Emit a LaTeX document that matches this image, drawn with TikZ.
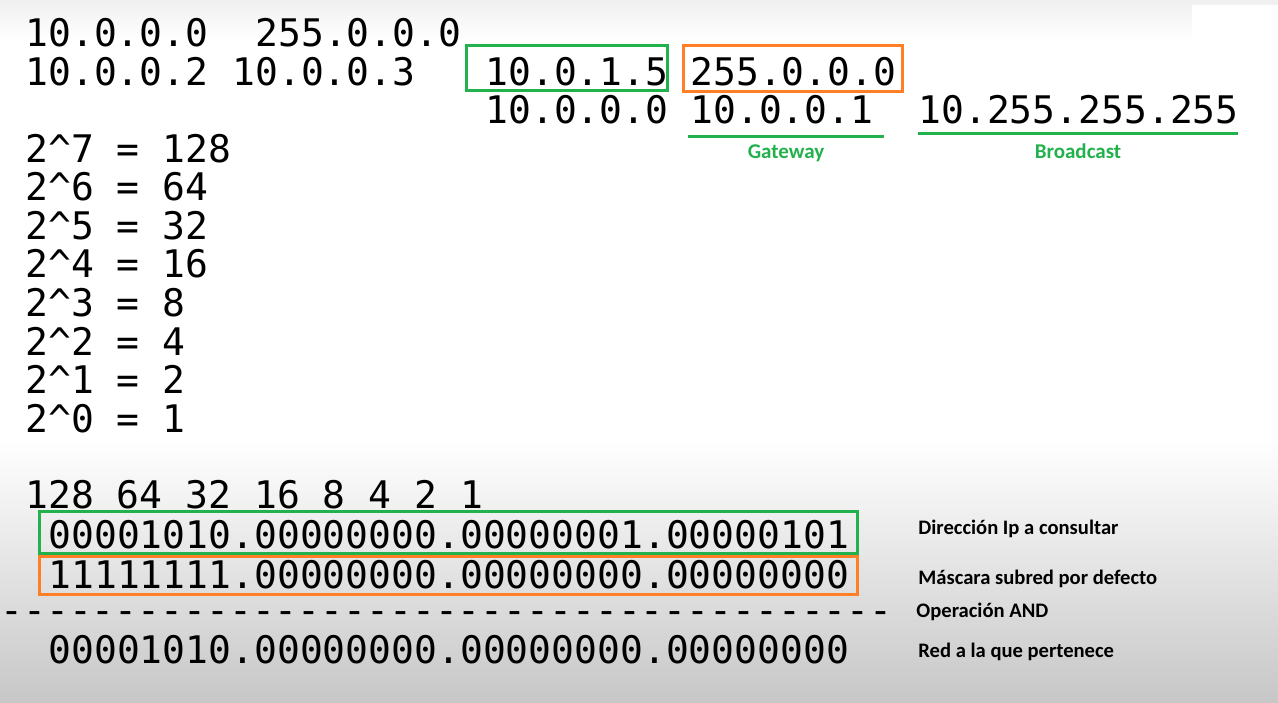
\documentclass[tikz,border=0pt]{standalone}
\usepackage{fontspec}
\newfontfamily\mono{DejaVu Sans Mono}
\newfontfamily\calib{Carlito}
\usetikzlibrary{positioning}
\definecolor{verde}{HTML}{22B14C}
\definecolor{naranja}{HTML}{FF7F27}
\tikzset{
  ip/.style={anchor=base west, inner sep=0pt, font=\mono\fontsize{19}{21}\selectfont},
  nota/.style={anchor=west, inner sep=0pt, font=\calib\bfseries\fontsize{10.3}{11}\selectfont},
  etiq/.style={inner sep=0pt, text=verde, font=\calib\bfseries\fontsize{10.5}{11}\selectfont},
  caja/.style={draw=#1, line width=1.5pt},
  subraya/.style={draw=verde, line width=1.5pt}
}

\begin{document}
\begin{tikzpicture}[x=0.5pt,y=-0.5pt]
    % fondo
    \useasboundingbox (0,0) rectangle (1278,702);
    \shade[top color=black!6, bottom color=white] (0,0) rectangle (1278,40);
    \fill[white] (0,40) rectangle (1278,440);
    \fill[white] (1192,5) rectangle (1278,40);
    \shade[top color=white, bottom color=black!22] (0,440) rectangle (1278,702);

    % direcciones
    \node[ip] (red) at (25,46) {10.0.0.0};
    \node[ip] (mask) at (255,46) {255.0.0.0};
    \node[ip] (h2) at (25,85) {10.0.0.2};
    \node[ip] (h3) at (232,85) {10.0.0.3};
    \node[ip] (ipc) at (485,85) {10.0.1.5};
    \node[ip] (maskc) at (690,85) {255.0.0.0};
    \node[ip] (redc) at (485,123) {10.0.0.0};
    \node[ip] (gw) at (690,123) {10.0.0.1};
    \node[ip] (bc) at (918,123) {10.255.255.255};
    \draw[caja=verde] (466,45) rectangle (667,90);
    \draw[caja=naranja] (683,45) rectangle (902,91);
    \draw[subraya] (688,136) -- coordinate[midway] (gwm) (884,136);
    \draw[subraya] (918,133) -- coordinate[midway] (bcm) (1238,133);
    \node[etiq, below=4pt of gwm] (gwl) {Gateway};
    \node[etiq, below=5pt of bcm] (bcl) {Broadcast};

    % potencias de 2
    \foreach \e/\v [count=\i from 0] in {7/128,6/64,5/32,4/16,3/8,2/4,1/2,0/1}
      \node[ip] (p\e) at (25,162+38.6*\i) {2\char`\^\e\ =\ \v};

    % operacion AND
    \node[ip] (pesos) at (25,508) {128 64 32 16 8 4 2 1};
    \node[ip] (bip) at (48,548) {00001010.00000000.00000001.00000101};
    \node[ip] (bmask) at (48,588) {11111111.00000000.00000000.00000000};
    \node[ip] (guion) at (0,623) {\foreach \k in {1,...,39}{-\kern0pt}};
    \node[ip] (bred) at (48,663) {00001010.00000000.00000000.00000000};
    \draw[caja=verde] (39,511) rectangle (857,553);
    \draw[caja=naranja] (39,556) rectangle (857,594);

    \node[nota] (n1) at (918,529) {Dirección Ip a consultar};
    \node[nota] (n2) at (918,579) {Máscara subred por defecto};
    \node[nota] (n3) at (916,612) {Operación AND};
    \node[nota] (n4) at (918,652) {Red a la que pertenece};
\end{tikzpicture}
\end{document}
